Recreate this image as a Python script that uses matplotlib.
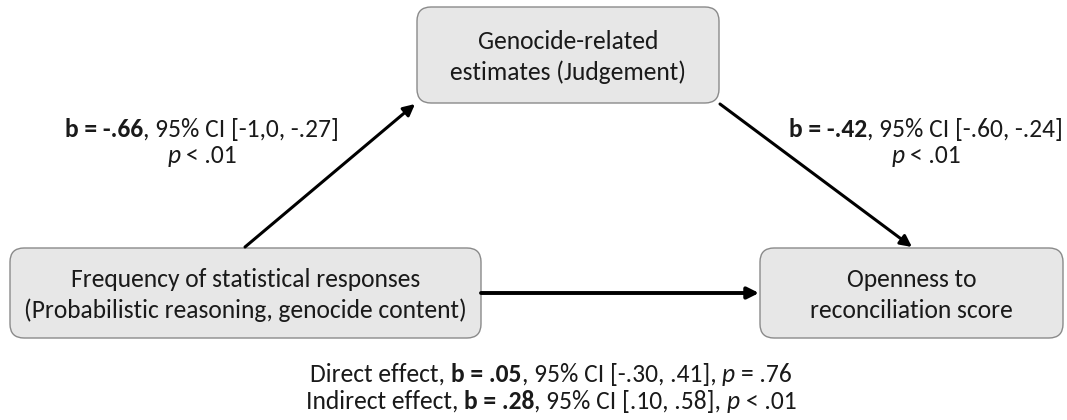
import matplotlib.pyplot as plt
from matplotlib import font_manager
from matplotlib.patches import FancyBboxPatch, FancyArrowPatch

# pick a Calibri-like face if one is there
names = {f.name for f in font_manager.fontManager.ttflist}
base = 'Carlito' if 'Carlito' in names else 'Lato'
plt.rcParams['font.family'] = [base, 'DejaVu Sans']

# node labels
mediator_label = ['Genocide-related', 'estimates (Judgement)']
predictor_label = ['Frequency of statistical responses',
                   '(Probabilistic reasoning, genocide content)']
outcome_label = ['Openness to', 'reconciliation score']

# path coefficients: b, 95% CI, p
path_a = ['-.66', '[-1,0, -.27]', '< .01']
path_b = ['-.42', '[-.60, -.24]', '< .01']
direct = ['.05', '[-.30, .41]', '= .76']
indirect = ['.28', '[.10, .58]', '< .01']

FS = 18.4
fig = plt.figure(figsize=(10.67, 4.2), dpi=100)
ax = fig.add_axes([0, 0, 1, 1])
ax.set_xlim(0, 1067)
ax.set_ylim(420, 0)
ax.axis('off')
renderer = fig.canvas.get_renderer()


def text_width(s, **kw):
    t = ax.text(0, 0, s, fontsize=FS, **kw)
    w = t.get_window_extent(renderer).width
    t.remove()
    return w


space_w = text_width('n n') - text_width('nn')


def rich(x, y, parts):
    '''draw (text, weight, style) pieces in a row, centred on x'''
    objs, offs = [], []
    pos = 0
    for s, w, st in parts:
        n = len(s) - len(s.lstrip(' '))
        pos += n * space_w
        t = ax.text(0, y, s.lstrip(' '), fontsize=FS, fontweight=w,
                    fontstyle=st, ha='left', va='baseline', color='#1a1a1a')
        offs.append(pos)
        pos += t.get_window_extent(renderer).width
        objs.append(t)
    x0 = x - pos / 2
    for t, o in zip(objs, offs):
        t.set_x(x0 + o)


def node(x0, y0, x1, y1, lines):
    box = FancyBboxPatch((x0, y0), x1 - x0, y1 - y0,
                         boxstyle='round,pad=0,rounding_size=14',
                         fc='#e7e7e7', ec='#8a8a8a', lw=1.0)
    ax.add_patch(box)
    cx = (x0 + x1) / 2
    cy = (y0 + y1) / 2
    ax.text(cx, cy - 6, lines[0], fontsize=FS, ha='center', va='baseline', color='#1a1a1a')
    ax.text(cx, cy + 25, lines[1], fontsize=FS, ha='center', va='baseline', color='#1a1a1a')


def arrow(p0, p1, lw=2.2):
    a = FancyArrowPatch(p0, p1, arrowstyle='-|>', mutation_scale=17,
                        lw=lw, color='black', shrinkA=0, shrinkB=0)
    ax.add_patch(a)


node(417, 7, 719, 103, mediator_label)
node(10, 248, 481, 338, predictor_label)
node(760, 248, 1063, 338, outcome_label)

arrow((245, 247), (415, 104))
arrow((720, 104), (912, 247))
arrow((481, 293), (759, 293), lw=2.8)


def coef_parts(prefix, c):
    parts = []
    if prefix:
        parts.append((prefix + ',', 'normal', 'normal'))
        parts.append((' b = ' + c[0], 'bold', 'normal'))
    else:
        parts.append(('b = ' + c[0], 'bold', 'normal'))
    parts.append((', 95% CI ' + c[1] + ',' if prefix else ', 95% CI ' + c[1],
                  'normal', 'normal'))
    return parts


# a and b paths
for cx, c in [(202, path_a), (926, path_b)]:
    rich(cx, 137, coef_parts('', c))
    rich(cx, 163, [('p', 'normal', 'italic'), (' ' + c[2], 'normal', 'normal')])

# direct and indirect effects
for y, pre, c in [(382, 'Direct effect', direct), (409, 'Indirect effect', indirect)]:
    parts = coef_parts(pre, c)
    parts += [(' p', 'normal', 'italic'), (' ' + c[2], 'normal', 'normal')]
    rich(551, y, parts)

fig.savefig('out.png', dpi=100)
